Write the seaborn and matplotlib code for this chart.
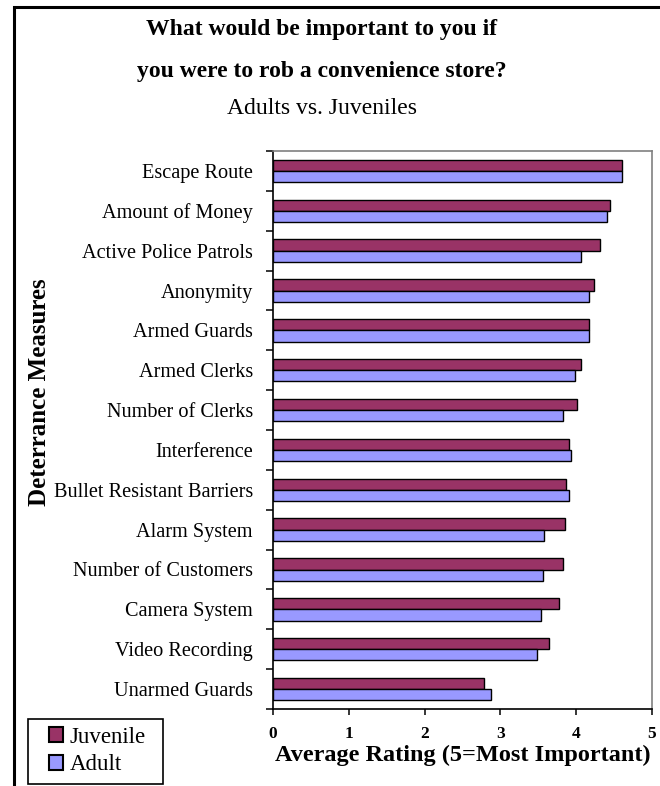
import matplotlib
matplotlib.use("Agg")
import matplotlib.pyplot as plt
from matplotlib.patches import Rectangle
from matplotlib.ticker import FixedLocator
import seaborn as sns
import pandas as pd

# Survey results: average importance rating per deterrence measure
categories = [
    "Escape Route", "Amount of Money", "Active Police Patrols", "Anonymity",
    "Armed Guards", "Armed Clerks", "Number of Clerks", "Interference",
    "Bullet Resistant Barriers", "Alarm System", "Number of Customers",
    "Camera System", "Video Recording", "Unarmed Guards",
]
juvenile = [4.61, 4.44, 4.32, 4.24, 4.17, 4.06, 4.01, 3.90, 3.87, 3.85,
            3.82, 3.77, 3.64, 2.79]
adult = [4.61, 4.40, 4.06, 4.17, 4.17, 3.98, 3.82, 3.93, 3.90, 3.58,
         3.56, 3.53, 3.48, 2.87]
groups = ["Juvenile", "Adult"]
x_ticks = [0, 1, 2, 3, 4, 5]

title_lines = ["What would be important to you if",
               "you were to rob a convenience store?"]
subtitle = "Adults vs. Juveniles"
x_label = "Average Rating (5=Most Important)"
y_label = "Deterrance Measures"

df = pd.DataFrame({
    "measure": categories * 2,
    "group": [groups[0]] * len(categories) + [groups[1]] * len(categories),
    "rating": juvenile + adult,
})

sns.set_theme(style="white")
plt.rcParams["font.family"] = ["Liberation Serif", "DejaVu Serif"]
plt.rcParams.update({
    "text.color": "black",
    "axes.labelcolor": "black",
    "xtick.color": "black",
    "ytick.color": "black",
})

W, H = 660, 786
fig = plt.figure(figsize=(W / 100, H / 100), dpi=100)
ax = fig.add_axes([273 / W, 1 - 709 / H, (652 - 273) / W, (709 - 151) / H])

palette = {"Juvenile": "#993366", "Adult": "#9999FF"}
sns.barplot(data=df, x="rating", y="measure", hue="group", hue_order=groups,
            order=categories, orient="h", palette=palette, width=0.56,
            saturation=1, edgecolor="black", linewidth=1.0, ax=ax,
            legend=True)

ax.set_xlim(0, 5)
ax.set_ylim(len(categories) - 0.5, -0.5)
ax.set_xticks(x_ticks)
ax.set_xticklabels([str(t) for t in x_ticks], fontsize=12.5, fontweight="bold")
ax.tick_params(axis="x", which="major", direction="out", length=4.5,
               width=1.1, color="black", pad=7.5, bottom=True)

# category ticks sit on group boundaries, labels on group centres
ax.tick_params(axis="y", which="major", length=0, pad=14.5, labelsize=14.6)
ax.yaxis.set_minor_locator(FixedLocator([i - 0.5 for i in range(len(categories) + 1)]))
ax.tick_params(axis="y", which="minor", direction="out", length=5,
               width=1.1, color="black", left=True)

ax.set_xlabel(x_label, fontsize=17.5, fontweight="bold", labelpad=2.5)
ax.set_ylabel("")

for side in ("left", "bottom"):
    ax.spines[side].set_color("black")
    ax.spines[side].set_linewidth(1.2)
for side in ("top", "right"):
    ax.spines[side].set_color("#808080")
    ax.spines[side].set_linewidth(1.2)
    ax.spines[side].set_visible(True)

fig.text(40 / W, 1 - 392 / H, y_label, rotation=90, ha="center", va="center",
         fontsize=18, fontweight="bold")

cx = 322 / W
fig.text(cx, 1 - 30 / H, title_lines[0], ha="center", va="center",
         fontsize=17, fontweight="bold")
fig.text(cx, 1 - 72 / H, title_lines[1], ha="center", va="center",
         fontsize=17, fontweight="bold")
fig.text(cx, 1 - 109 / H, subtitle, ha="center", va="center", fontsize=17)

# legend in the lower-left corner with its own frame
handles, labels = ax.get_legend_handles_labels()
ax.get_legend().remove()
for h in handles:
    h.set_edgecolor("black")
    h.set_linewidth(1.5)
fig.legend(handles, labels, loc="center left",
           bbox_to_anchor=(49 / W, 1 - 751 / H), frameon=False,
           fontsize=16.5, handlelength=0.6, handleheight=0.6,
           handletextpad=0.3, labelspacing=0.3, borderpad=0, borderaxespad=0)
fig.patches.append(Rectangle((28 / W, 1 - 784 / H), 135 / W, 65 / H,
                             transform=fig.transFigure, fill=False,
                             edgecolor="black", linewidth=1.2))

# outer frame, running off the right and bottom edges
fig.patches.append(Rectangle((14 / W, -0.2), 1.5, 1.2 - 6.5 / H,
                             transform=fig.transFigure, fill=False,
                             edgecolor="black", linewidth=2.2))

fig.savefig("out.png", dpi=100)
